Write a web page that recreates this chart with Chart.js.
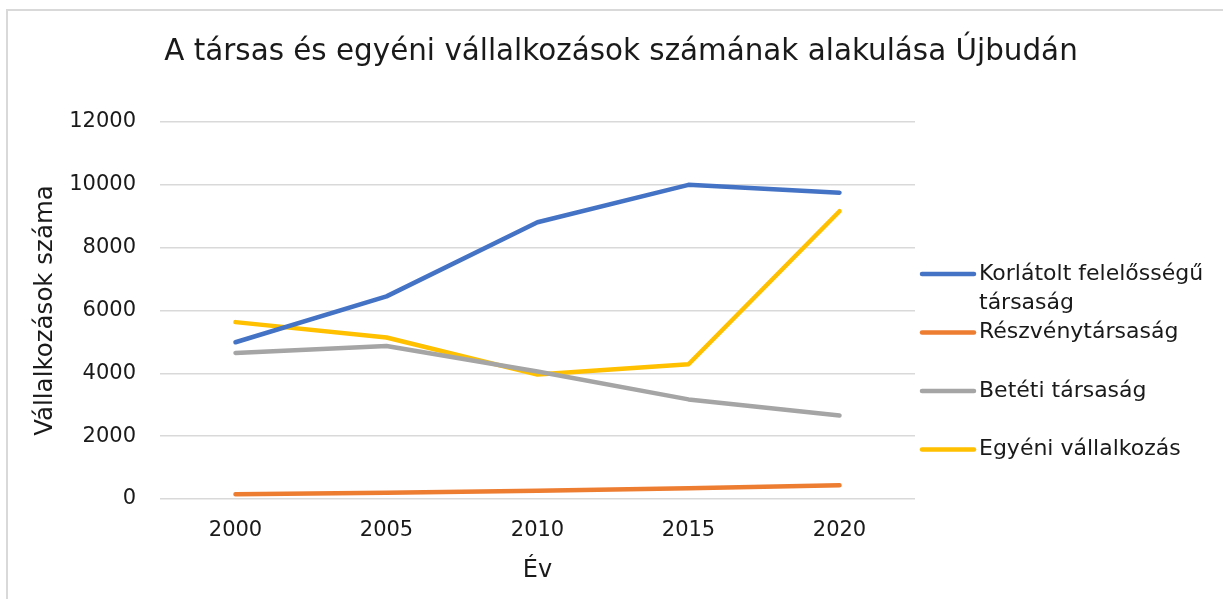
<!DOCTYPE html>
<html>
<head>
<meta charset="utf-8">
<script src="https://cdn.jsdelivr.net/npm/chart.js@4.4.0/dist/chart.umd.min.js"></script>
<style>
  html, body { margin: 0; padding: 0; background: #fff; }
  #wrap { width: 1223px; height: 599px; position: relative; }
</style>
</head>
<body>
<div id="wrap"><canvas id="chart"></canvas></div>
<script>
// adatok
const years = ['2000', '2005', '2010', '2015', '2020'];
const kft = [4990, 6450, 8810, 10000, 9750];
const rt = [150, 200, 260, 340, 440];
const bt = [4650, 4870, 4060, 3170, 2660];
const egyeni = [5630, 5140, 3960, 4290, 9160];
const seriesNames = [['Korlátolt felelősségű', 'társaság'], ['Részvénytársaság'], ['Betéti társaság'], ['Egyéni vállalkozás']];
const seriesColors = ['#4472C4', '#ED7D31', '#A5A5A5', '#FFC000'];
const yTicks = [0, 2000, 4000, 6000, 8000, 10000, 12000];

const FONT = '"DejaVu Sans", sans-serif';
const TEXT = '#1a1a1a';

// keret, cím és jelmagyarázat rajzolása
const decorPlugin = {
    id: 'decor',
    beforeDraw(chart) {
        const c = chart.ctx;
        c.save();
        c.fillStyle = '#fff';
        c.fillRect(0, 0, chart.width, chart.height);
        c.strokeStyle = '#d9d9d9';
        c.lineWidth = 2;
        c.beginPath();
        c.moveTo(7, chart.height + 5);
        c.lineTo(7, 10);
        c.lineTo(chart.width + 5, 10);
        c.stroke();
        c.restore();
    },
    afterDraw(chart) {
        const c = chart.ctx;
        c.save();
        c.fillStyle = TEXT;
        c.textAlign = 'center';
        c.textBaseline = 'alphabetic';
        c.font = '29.4px ' + FONT;
        c.fillText('A társas és egyéni vállalkozások számának alakulása Újbudán', 621, 60);

        // jelmagyarázat
        c.font = '22px ' + FONT;
        c.textAlign = 'left';
        c.textBaseline = 'middle';
        let y = 274;
        chart.data.datasets.forEach((ds, i) => {
            c.strokeStyle = ds.borderColor;
            c.lineWidth = 4.5;
            c.lineCap = 'round';
            c.beginPath();
            c.moveTo(922, y);
            c.lineTo(974, y);
            c.stroke();
            const lines = seriesNames[i];
            lines.forEach((t, k) => c.fillText(t, 979, y + k * 29));
            y += 58.5;
        });
        c.restore();
    }
};

new Chart(document.getElementById('chart'), {
    type: 'line',
    data: {
        labels: years,
        datasets: [kft, rt, bt, egyeni].map((d, i) => ({
            label: seriesNames[i].join(' '),
            data: d,
            borderColor: seriesColors[i],
            backgroundColor: seriesColors[i],
            borderWidth: 4.5,
            borderCapStyle: 'round',
            borderJoinStyle: 'round',
            pointRadius: 0,
            tension: 0
        }))
    },
    options: {
        responsive: true,
        maintainAspectRatio: false,
        animation: false,
        layout: { padding: { left: 0, right: 308, top: 122, bottom: 0 } },
        plugins: { legend: { display: false }, title: { display: false }, tooltip: { enabled: false } },
        scales: {
            x: {
                offset: true,
                grid: { display: false, drawTicks: false },
                border: { display: false },
                ticks: { color: TEXT, font: { family: FONT, size: 21 }, padding: 19 },
                title: { display: true, text: 'Év', color: TEXT, font: { family: FONT, size: 24 }, padding: { top: 0, bottom: 14 } },
                afterFit(s) { s.height = 100; }
            },
            y: {
                min: 0,
                max: 12000,
                afterBuildTicks(s) { s.ticks = yTicks.map(v => ({ value: v })); },
                grid: { color: '#d9d9d9', lineWidth: 1.5, drawTicks: false },
                border: { display: false },
                ticks: { color: TEXT, font: { family: FONT, size: 21 }, padding: 24, callback: v => String(v) },
                title: { display: true, text: 'Vállalkozások száma', color: TEXT, font: { family: FONT, size: 24.5 }, padding: { top: 31, bottom: 0 } },
                afterFit(s) { s.width = 160; }
            }
        }
    },
    plugins: [decorPlugin]
});
</script>
</body>
</html>
